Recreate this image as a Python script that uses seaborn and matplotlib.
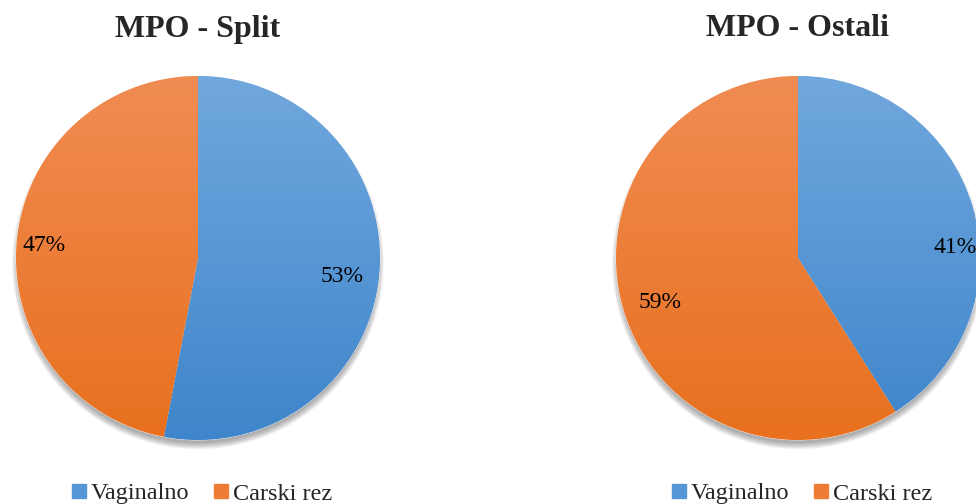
import numpy as np
import matplotlib
matplotlib.use("Agg")
import matplotlib.pyplot as plt
import seaborn as sns
from matplotlib.colors import LinearSegmentedColormap
from matplotlib.patches import Circle, Patch

sns.set_theme(style="white")
plt.rcParams['font.family'] = ['Liberation Serif', 'DejaVu Serif']

# Data
categories = ['Vaginalno', 'Carski rez']
titles = ['MPO - Split', 'MPO - Ostali']
split_values = [53, 47]
ostali_values = [41, 59]
# label positions (in pie radius units), picked to match the reference
label_pos = [[(0.79, -0.10), (-0.846, 0.066)],
             [(0.863, 0.055), (-0.758, -0.242)]]

# gradient colours (bottom, top) per category
grad = {'Vaginalno': ('#3E85CB', '#71A8DD'),
        'Carski rez': ('#E8701E', '#F08C52')}
legend_col = {'Vaginalno': '#5596D6', 'Carski rez': '#EE7C35'}

W, H = 976, 504
fig = plt.figure(figsize=(W / 100, H / 100), dpi=100)
R = 182
M = 1.06
centers = [(198, 258), (798, 258)]

for k, (vals, title) in enumerate(zip([split_values, ostali_values], titles)):
    cx, cy = centers[k]
    size = 2 * M * R
    ax = fig.add_axes([(cx - M * R) / W, (H - cy - M * R) / H, size / W, size / H])

    # soft shadow below the pie
    for i in range(10):
        ax.add_patch(Circle((0.0, -0.03), 0.985 + 0.004 * i, color='#404040',
                            alpha=0.05, lw=0, zorder=0))
    ax.add_patch(Circle((0, 0), 1.0, color='white', lw=0, zorder=0.5))

    wedges, _, autotexts = ax.pie(vals, startangle=90, counterclock=False,
                                  autopct=lambda p: f'{p:.0f}%',
                                  wedgeprops=dict(lw=0.5, edgecolor='white'),
                                  textprops=dict(fontsize=17, color='black'),
                                  frame=True)
    ax.set_xlim(-M, M)
    ax.set_ylim(-M, M)
    ax.axis('off')

    grid = np.linspace(0, 1, 256).reshape(-1, 1)
    for w, cat in zip(wedges, categories):
        cmap = LinearSegmentedColormap.from_list(cat, [grad[cat][0], grad[cat][1]])
        im = ax.imshow(grid, extent=[-1, 1, -1, 1], origin='lower', cmap=cmap,
                       aspect='auto', zorder=1.5)
        im.set_clip_path(w)
    for t, p in zip(autotexts, label_pos[k]):
        t.set_position(p)
        t.set_zorder(3)

    fig.text(cx / W, 1 - 29 / H, title, ha='center', va='center',
             fontsize=23, fontweight='bold')

    handles = [Patch(color=legend_col[c], label=c) for c in categories]
    fig.legend(handles=handles, loc='center', ncol=2, frameon=False,
               bbox_to_anchor=((cx + 4) / W, 1 - 494 / H),
               fontsize=17.5, handlelength=0.55, handleheight=0.55,
               handletextpad=0.2, columnspacing=1.05)

fig.savefig('out.png', dpi=100)
